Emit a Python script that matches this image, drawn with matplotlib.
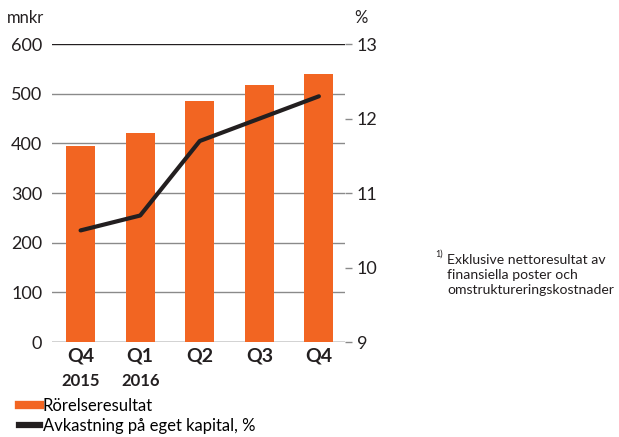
import matplotlib
matplotlib.use("Agg")
import matplotlib.pyplot as plt
from matplotlib.lines import Line2D
from matplotlib.transforms import blended_transform_factory

# Data
quarters = ["Q4", "Q1", "Q2", "Q3", "Q4"]
years = ["2015", "2016", "", "", ""]
rorelseresultat = [395, 421, 486, 517, 540]
avkastning = [10.5, 10.7, 11.7, 12.0, 12.3]

orange = "#F26522"
dark = "#231F20"
grey = "#8A8A8A"

plt.rcParams["font.family"] = ["Lato", "DejaVu Sans"]

fig = plt.figure(figsize=(6.19, 4.37), dpi=100)
ax = fig.add_axes([0.084, 0.217, 0.474, 0.682])
ax2 = ax.twinx()

x = list(range(len(quarters)))
ax.bar(x, rorelseresultat, width=0.49, color=orange, zorder=2)
ax.set_xlim(-0.48, 4.445)
ax.set_ylim(0, 600)

# horisontella linjer
for v in range(0, 601, 100):
    c = dark if v in (0, 600) else grey
    ax.axhline(v, color=c, linewidth=1.0, zorder=1)

ax2.plot(x, avkastning, color=dark, linewidth=3, solid_capstyle="round", zorder=3)
ax2.set_ylim(9, 13)
ax2.set_yticks([9, 10, 11, 12, 13])

for a in (ax, ax2):
    for s in a.spines.values():
        s.set_visible(False)

ax.set_yticks(range(0, 601, 100))
ax.tick_params(axis="y", length=0, pad=7, labelsize=13, colors=dark)
ax2.tick_params(axis="y", length=5, width=1.0, pad=3, labelsize=13,
                colors=grey, labelcolor=dark)
ax.set_xticks(x)
ax.set_xticklabels(quarters, fontsize=14, fontweight="bold", color=dark)
ax.tick_params(axis="x", length=0, pad=4)

trans = blended_transform_factory(ax.transData, ax.transAxes)
for xi, yr in zip(x, years):
    if yr:
        ax.text(xi, -0.105, yr, transform=trans, ha="center", va="top",
                fontsize=12, fontweight="bold", color=dark)

fig.text(0.011, 0.958, "mnkr", fontsize=12, color=dark, va="center")
fig.text(0.572, 0.958, "%", fontsize=12, color=dark, va="center")

# fotnot
fig.text(0.703, 0.418, "1)", fontsize=6.5, color=dark, va="center")
fig.text(0.722, 0.418, "Exklusive nettoresultat av\nfinansiella poster och\nomstruktureringskostnader",
         fontsize=10.1, color=dark, va="top", linespacing=1.3)

handles = [Line2D([], [], color=orange, linewidth=6),
           Line2D([], [], color=dark, linewidth=4.5)]
fig.legend(handles, ["Rörelseresultat", "Avkastning på eget kapital, %"],
           loc="upper left", bbox_to_anchor=(0.03, 0.089), frameon=False,
           fontsize=12, handlelength=1.3, handletextpad=0.15, labelspacing=0.22,
           borderaxespad=0, borderpad=0)

fig.savefig("out.png", dpi=100)
